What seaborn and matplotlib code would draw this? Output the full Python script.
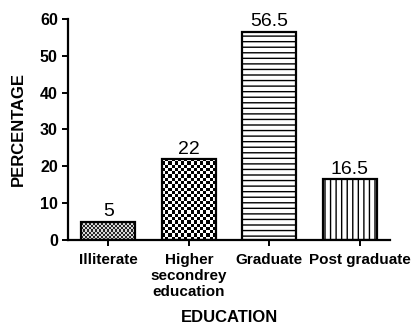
import numpy as np
import pandas as pd
import matplotlib
matplotlib.use("Agg")
import matplotlib.pyplot as plt
import seaborn as sns

# Education level of respondents (percentage)
categories = ["Illiterate", "Higher\nsecondrey\neducation", "Graduate", "Post graduate"]
percentages = [5, 22, 56.5, 16.5]
y_ticks = [0, 10, 20, 30, 40, 50, 60]

df = pd.DataFrame({"EDUCATION": categories, "PERCENTAGE": percentages})

sns.set_theme(style="ticks")
plt.rcParams["font.family"] = ["Liberation Sans", "DejaVu Sans"]
plt.rcParams["hatch.linewidth"] = 1.0
plt.rcParams["hatch.color"] = "black"

fig = plt.figure(figsize=(4.12, 3.27), dpi=100)
ax = fig.add_axes([0.165, 0.266, 0.782, 0.676])

sns.barplot(data=df, x="EDUCATION", y="PERCENTAGE", ax=ax, color="white",
            edgecolor="black", linewidth=1.6, width=0.67, saturation=1)

ax.set_xlim(-0.5, 3.5)
ax.set_ylim(0, 60)
ax.set_yticks(y_ticks)
sns.despine(ax=ax)
for side in ("left", "bottom"):
    ax.spines[side].set_linewidth(1.6)
    ax.spines[side].set_color("black")

bars = ax.patches
bars[2].set_hatch("---")
bars[3].set_hatch("|||")

# checkerboard fills for the first two bars, clipped to each bar outline
for bar, cell, shades in zip(bars[:2], [2.0, 3.2], [(0.15, 0.85), (0.0, 1.0)]):
    x0, y0 = bar.get_x(), bar.get_y()
    w, h = bar.get_width(), bar.get_height()
    (px0, py0), (px1, py1) = ax.transData.transform([(x0, y0), (x0 + w, y0 + h)])
    ncols = max(1, int(round((px1 - px0) / cell)))
    nrows = max(1, int(round((py1 - py0) / cell)))
    board = np.indices((nrows, ncols)).sum(axis=0) % 2
    board = np.where(board == 1, shades[0], shades[1])
    img = ax.imshow(board, cmap="gray", vmin=0, vmax=1,
                    extent=(x0, x0 + w, y0, y0 + h), interpolation="nearest",
                    aspect="auto", zorder=bar.get_zorder() - 0.1)
    img.set_clip_path(bar)
    bar.set_facecolor("none")

ax.set_xlim(-0.5, 3.5)
ax.set_ylim(0, 60)

ax.bar_label(ax.containers[0], labels=[f"{v:g}" for v in percentages],
             padding=1, fontsize=14, color="black")

tick_pos = np.arange(len(categories), dtype=float)
tick_pos[-1] += 0.12
ax.set_xticks(tick_pos, labels=categories)

ax.tick_params(axis="both", direction="out", length=4.3, width=1.4,
               color="black", labelcolor="black", labelsize=11, pad=3)
ax.tick_params(axis="x", pad=5)
ax.tick_params(axis="y", labelsize=11.5)
for lab in ax.get_xticklabels() + ax.get_yticklabels():
    lab.set_fontweight("bold")
for lab in ax.get_xticklabels():
    lab.set_linespacing(1.2)

ax.set_xlabel("EDUCATION", fontsize=12, fontweight="bold", color="black")
ax.set_ylabel("PERCENTAGE", fontsize=12, fontweight="bold", color="black")
ax.xaxis.set_label_coords(0.5, -0.317)
ax.yaxis.set_label_coords(-0.13, 0.5)

fig.savefig("out.png", dpi=100)
